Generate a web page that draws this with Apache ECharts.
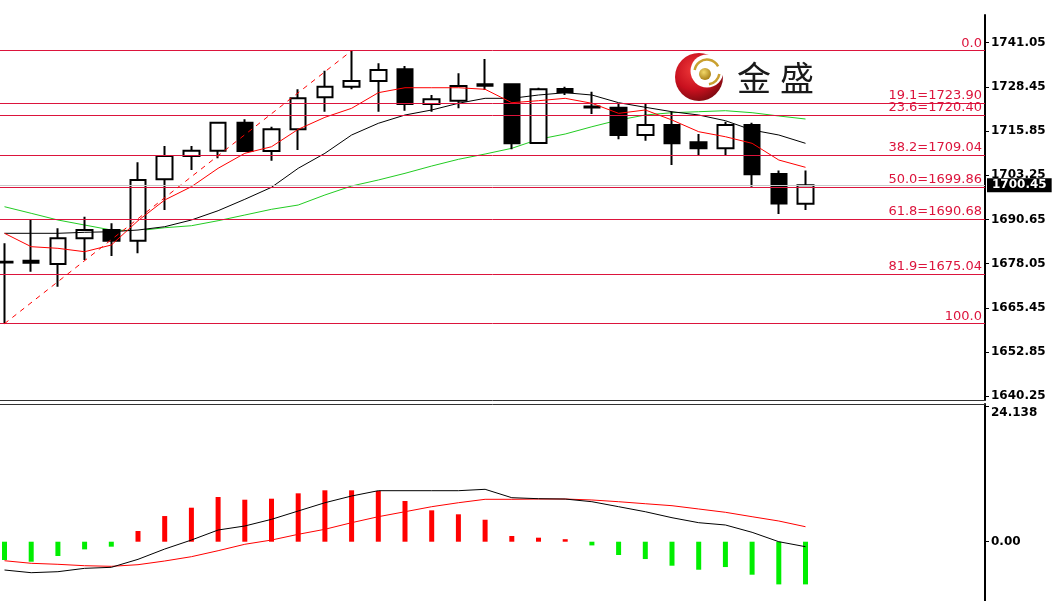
<!DOCTYPE html>
<html><head><meta charset="utf-8">
<script src="https://cdn.jsdelivr.net/npm/echarts@6/dist/echarts.min.js"></script>
<style>html,body{margin:0;padding:0;background:#fff;}#c{width:1057px;height:601px;}</style>
</head><body><div id="c"></div>
<script>
// ---- data ----
const opens  = [1678.60,1678.90,1677.97,1685.29,1687.66,1684.61,1702.11,1708.75,1710.26,1718.25,1710.18,1716.36,1725.49,1728.51,1730.13,1733.47,1723.58,1724.52,1729.20,1729.19,1712.46,1727.85,1722.90,1722.52,1714.74,1717.59,1712.66,1710.95,1717.59,1703.62,1695.16];
const closes = [1678.40,1678.30,1685.29,1687.66,1684.61,1701.91,1708.75,1710.26,1718.25,1710.18,1716.36,1725.20,1728.51,1730.13,1733.27,1723.58,1724.92,1728.71,1728.80,1712.37,1727.77,1726.91,1722.60,1714.74,1717.59,1712.37,1710.95,1717.59,1703.54,1695.21,1700.45];
const lows   = [1660.96,1675.77,1671.50,1679.11,1680.25,1681.02,1693.36,1704.76,1708.10,1710.00,1707.41,1710.46,1721.38,1727.77,1721.38,1721.67,1721.38,1722.35,1727.57,1710.66,1712.30,1726.14,1720.73,1713.51,1713.11,1706.19,1709.04,1709.04,1700.00,1692.22,1693.36];
const highs  = [1683.87,1690.51,1688.14,1691.45,1689.57,1706.96,1711.60,1711.60,1718.25,1719.21,1717.10,1727.77,1733.07,1738.76,1735.18,1734.41,1726.14,1732.33,1736.40,1729.40,1728.22,1728.51,1727.08,1723.78,1723.58,1721.38,1715.02,1718.53,1718.20,1704.62,1704.62];
const maFast = [1686.72,1682.90,1682.44,1681.47,1683.38,1690.31,1696.21,1700.00,1705.25,1709.52,1711.40,1716.36,1719.78,1722.35,1726.80,1728.22,1728.22,1728.22,1727.77,1723.95,1724.52,1725.20,1723.78,1720.92,1721.87,1719.01,1715.68,1714.25,1712.37,1707.61,1705.53];
const maMid  = [1686.72,1686.72,1686.72,1687.00,1687.17,1687.66,1688.60,1690.51,1693.16,1696.41,1699.83,1705.25,1709.52,1714.74,1718.07,1720.44,1721.87,1723.78,1725.20,1725.20,1726.14,1726.80,1726.14,1723.95,1722.64,1721.38,1720.44,1718.82,1716.16,1714.74,1712.37];
const maSlow = [1694.30,1692.42,1690.51,1689.08,1687.66,1687.46,1688.31,1688.88,1690.31,1691.93,1693.56,1694.78,1697.64,1700.20,1701.91,1703.82,1705.90,1707.81,1709.32,1710.95,1713.51,1715.02,1717.10,1719.01,1720.44,1721.10,1721.38,1721.67,1721.10,1720.16,1719.30];
const macdHist   = [-3.27,-3.58,-2.56,-1.37,-0.89,1.91,4.59,6.08,7.99,7.51,7.69,8.65,9.19,9.19,9.07,7.28,5.61,4.90,3.93,1.02,0.72,0.45,-0.66,-2.38,-3.10,-4.29,-5.01,-4.53,-5.90,-7.63,-7.63];
const macdMain   = [-5.06,-5.54,-5.36,-4.76,-4.58,-3.15,-1.31,0.30,2.09,2.81,4.00,5.49,6.97,8.17,9.12,9.12,9.12,9.12,9.37,7.87,7.69,7.63,7.15,6.26,5.36,4.29,3.40,2.99,1.68,0.00,-0.89];
const macdSignal = [-3.40,-3.86,-4.04,-4.29,-4.40,-4.11,-3.45,-2.68,-1.61,-0.46,0.30,1.32,2.22,3.40,4.47,5.36,6.26,6.97,7.58,7.58,7.63,7.63,7.46,7.15,6.79,6.44,5.85,5.26,4.47,3.70,2.68];
const priceTicks = [1640.25,1652.85,1665.45,1678.05,1690.65,1703.25,1715.85,1728.45,1741.05];
const macdZeroTick = [0];
const macdTopTick = [24.138];
const fibRatios = ['0.0','19.1','23.6','38.2','50.0','61.8','81.9','100.0'];
const fibValues = [1738.76,1723.90,1720.40,1709.04,1699.86,1690.68,1675.04,1660.96];
const fibStart = [0, 1660.96];   // swing low (bar index, price)
const fibEnd = [13, 1738.76];    // swing high
const lastPrice = 1700.45;
const logoText = ['金','盛'];

// ---- layout ----
const STEP = 26.7, X0 = 4.5, AXIS_X = 985;
const xMin = -X0 / STEP, xMax = xMin + AXIS_X / STEP;

const idx = opens.map((_, i) => i);
const candleData = idx.map(i => [i, opens[i], closes[i], lows[i], highs[i]]);
const toXY = arr => arr.map((v, i) => [i, v]);

const FIB = '#dc143c';
const axisFont = { fontFamily: 'DejaVu Sans', fontSize: 12, fontWeight: 'bold', color: '#000' };

const fibLines = fibValues.map((v, k) => ({
  yAxis: v,
  lineStyle: { color: FIB, width: 1, type: 'solid' },
  label: {
    show: true, position: 'insideEndTop', distance: [3, 1],
    formatter: (k === 0 || k === fibValues.length - 1) ? fibRatios[k] : fibRatios[k] + '=' + v.toFixed(2),
    color: FIB, fontFamily: 'DejaVu Sans', fontSize: 13
  }
}));

const chart = echarts.init(document.getElementById('c'), null, { renderer: 'canvas' });
const hiddenX = (gi, pos) => ({
  type: 'value', gridIndex: gi, min: xMin, max: xMax, position: pos,
  axisLine: { show: true, onZero: false, lineStyle: { color: '#333', width: 1 } },
  axisTick: { show: false }, axisLabel: { show: false }, splitLine: { show: false }
});

chart.setOption({
  animation: false,
  backgroundColor: '#fff',
  grid: [
    { left: 0, top: 15, width: AXIS_X, height: 385 },
    { left: 0, top: 404, width: AXIS_X, height: 197 }
  ],
  xAxis: [hiddenX(0, 'bottom'), hiddenX(1, 'top')],
  yAxis: [
    {
      type: 'value', gridIndex: 0, position: 'right', min: 1639.2, max: 1748.95,
      axisLine: { show: true, onZero: false, lineStyle: { color: '#000', width: 2 } },
      axisTick: { show: true, length: 4, customValues: priceTicks, lineStyle: { color: '#000', width: 1 } },
      axisLabel: Object.assign({ customValues: priceTicks, margin: 6, formatter: v => v.toFixed(2) }, axisFont),
      splitLine: { show: false }
    },
    {
      type: 'value', gridIndex: 1, position: 'right', min: -10.60, max: 24.62,
      axisLine: { show: true, onZero: false, lineStyle: { color: '#000', width: 2 } },
      axisTick: { show: true, length: 4, customValues: macdZeroTick.concat(macdTopTick), lineStyle: { color: '#000', width: 1 } },
      axisLabel: Object.assign({ customValues: macdZeroTick, margin: 6, formatter: v => v.toFixed(2) }, axisFont),
      splitLine: { show: false }
    },
    {
      type: 'value', gridIndex: 1, position: 'right', min: -10.60, max: 24.62,
      axisLine: { show: false, onZero: false }, axisTick: { show: false },
      axisLabel: Object.assign({ customValues: macdTopTick, margin: 6, verticalAlign: 'top', formatter: v => v.toFixed(3) }, axisFont),
      splitLine: { show: false }
    }
  ],
  series: [
    {
      type: 'line', xAxisIndex: 0, yAxisIndex: 0, data: toXY(maSlow), showSymbol: false, silent: true,
      lineStyle: { color: '#22cc22', width: 1 }, z: 1
    },
    {
      type: 'candlestick', xAxisIndex: 0, yAxisIndex: 0, data: candleData,
      encode: { x: 0, y: [1, 2, 3, 4] }, barWidth: 16,
      itemStyle: { color: '#fff', color0: '#000', borderColor: '#000', borderColor0: '#000', borderWidth: 2 },
      z: 3,
      markLine: {
        silent: true, symbol: 'none', animation: false,
        data: fibLines.concat([
          [
            { coord: fibStart, lineStyle: { color: '#ff0000', width: 1, type: [5, 5] }, label: { show: false } },
            { coord: fibEnd }
          ],
          {
            yAxis: lastPrice,
            lineStyle: { color: '#c8c8c8', width: 1, type: 'solid' },
            label: {
              show: true, position: 'end', distance: 2, formatter: lastPrice.toFixed(2),
              backgroundColor: '#000', color: '#fff', padding: [1, 5, 0, 5], lineHeight: 13,
              fontFamily: 'DejaVu Sans', fontSize: 12, fontWeight: 'bold'
            }
          }
        ])
      }
    },
    {
      type: 'line', xAxisIndex: 0, yAxisIndex: 0, data: toXY(maMid), showSymbol: false, silent: true,
      lineStyle: { color: '#000', width: 1 }, z: 4
    },
    {
      type: 'line', xAxisIndex: 0, yAxisIndex: 0, data: toXY(maFast), showSymbol: false, silent: true,
      lineStyle: { color: '#ff0000', width: 1 }, z: 4
    },
    {
      type: 'bar', xAxisIndex: 1, yAxisIndex: 1, data: toXY(macdHist), barWidth: 5,
      itemStyle: { color: p => (p.value[1] >= 0 ? '#ff0000' : '#00ee00') }
    },
    {
      type: 'line', xAxisIndex: 1, yAxisIndex: 1, data: toXY(macdSignal), showSymbol: false, silent: true,
      lineStyle: { color: '#ff0000', width: 1 }, z: 4
    },
    {
      type: 'line', xAxisIndex: 1, yAxisIndex: 1, data: toXY(macdMain), showSymbol: false, silent: true,
      lineStyle: { color: '#000', width: 1 }, z: 4
    }
  ],
  graphic: [
    { type: 'circle', shape: { cx: 699, cy: 77, r: 24 }, z: 10,
      style: { fill: new echarts.graphic.RadialGradient(0.4, 0.35, 0.7, [
        { offset: 0, color: '#f03a3a' }, { offset: 0.6, color: '#c8101e' }, { offset: 1, color: '#7a0a10' }]) } },
    { type: 'circle', shape: { cx: 707, cy: 71, r: 16.5 }, z: 11, style: { fill: '#fff' } },
    { type: 'arc', shape: { cx: 707, cy: 72, r: 12.5, startAngle: -Math.PI * 0.95, endAngle: -Math.PI * 0.15 }, z: 12,
      style: { stroke: '#c9a030', lineWidth: 2.5, fill: null } },
    { type: 'arc', shape: { cx: 707, cy: 72, r: 12.5, startAngle: Math.PI * 0.05, endAngle: Math.PI * 0.45 }, z: 12,
      style: { stroke: '#c9a030', lineWidth: 2.5, fill: null } },
    { type: 'circle', shape: { cx: 705, cy: 74, r: 6 }, z: 13,
      style: { fill: new echarts.graphic.RadialGradient(0.4, 0.35, 0.7, [
        { offset: 0, color: '#f2d868' }, { offset: 1, color: '#a47a12' }]) } },
    { type: 'text', x: 754, y: 78, z: 10,
      style: { text: logoText[0], fill: '#1a1a1a', font: '34px "Noto Sans CJK SC"', align: 'center', verticalAlign: 'middle' } },
    { type: 'text', x: 797, y: 78, z: 10,
      style: { text: logoText[1], fill: '#1a1a1a', font: '34px "Noto Sans CJK SC"', align: 'center', verticalAlign: 'middle' } }
  ]
});
</script>
</body></html>
